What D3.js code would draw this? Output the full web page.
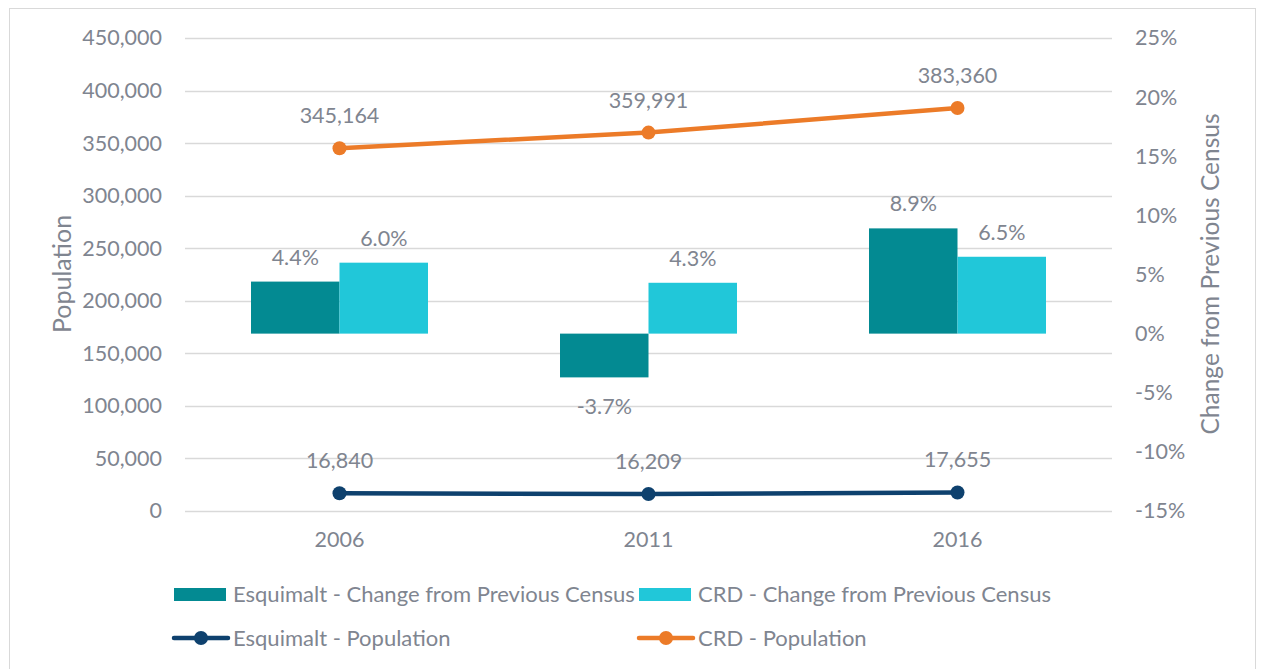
<!DOCTYPE html>
<html>
<head>
<meta charset="utf-8">
<script src="https://cdn.jsdelivr.net/npm/d3@7"></script>
<style>
  body { margin: 0; background: #fff; }
  svg text { font-family: Lato, "Open Sans", sans-serif; fill: #7f8590; }
</style>
</head>
<body>
<div id="chart"></div>
<script>
const years = ["2006", "2011", "2016"];
const esqChange = [4.4, -3.7, 8.9];
const crdChange = [6.0, 4.3, 6.5];
const esqPop = [16840, 16209, 17655];
const crdPop = [345164, 359991, 383360];
const popTicks = [0, 50000, 100000, 150000, 200000, 250000, 300000, 350000, 400000, 450000];
const pctTicks = [-15, -10, -5, 0, 5, 10, 15, 20, 25];

const W = 1261, H = 669;
const plot = { left: 185, right: 1112, top: 38, bottom: 511 };
const fs = 21.5;

const svg = d3.select("#chart").append("svg").attr("width", W).attr("height", H);

// outer frame
svg.append("rect").attr("x", 9.5).attr("y", 8.5).attr("width", 1246).attr("height", 670)
  .attr("fill", "none").attr("stroke", "#d9d9d9").attr("stroke-width", 1);

const x = d3.scaleBand().domain(years).range([plot.left, plot.right]);
const yPop = d3.scaleLinear().domain([0, 450000]).range([plot.bottom, plot.top]);
const yPct = d3.scaleLinear().domain([-15, 25]).range([plot.bottom, plot.top]);

// gridlines
svg.append("g").selectAll("line").data(popTicks).join("line")
  .attr("x1", plot.left).attr("x2", plot.right)
  .attr("y1", d => Math.round(yPop(d)) + 0.5).attr("y2", d => Math.round(yPop(d)) + 0.5)
  .attr("stroke", "#d9d9d9").attr("stroke-width", 1.3);

const fmt = d3.format(",");

// left axis
const leftAxis = svg.append("g").attr("transform", `translate(${plot.left},0)`)
  .call(d3.axisLeft(yPop).tickValues(popTicks).tickFormat(fmt).tickSize(0).tickPadding(23));
leftAxis.select(".domain").remove();
leftAxis.selectAll("text").attr("font-size", fs).attr("fill", "#7f8590");

// right axis
const rightAxis = svg.append("g").attr("transform", `translate(${plot.right},0)`)
  .call(d3.axisRight(yPct).tickValues(pctTicks).tickFormat(d => d + "%").tickSize(0).tickPadding(23));
rightAxis.select(".domain").remove();
rightAxis.selectAll("text").attr("font-size", fs).attr("fill", "#7f8590");

// x axis labels
const xAxis = svg.append("g").attr("transform", `translate(0,${plot.bottom})`)
  .call(d3.axisBottom(x).tickSize(0).tickPadding(21));
xAxis.select(".domain").remove();
xAxis.selectAll("text").attr("font-size", fs).attr("fill", "#7f8590");

// axis titles
svg.append("text").attr("transform", "translate(62,274) rotate(-90)")
  .attr("text-anchor", "middle").attr("dy", "0.35em").attr("font-size", 25).text("Population");
svg.append("text").attr("transform", "translate(1210,274) rotate(-90)")
  .attr("text-anchor", "middle").attr("dy", "0.35em").attr("font-size", 24.5).text("Change from Previous Census");

// bars
const barW = 88.5;
const series = [
  { vals: esqChange, color: "#038a92", off: -barW },
  { vals: crdChange, color: "#21c7d9", off: 0 }
];
series.forEach(s => {
  const g = svg.append("g");
  g.selectAll("rect").data(s.vals).join("rect")
    .attr("x", (d, i) => x(years[i]) + x.bandwidth() / 2 + s.off)
    .attr("width", barW)
    .attr("y", d => yPct(Math.max(0, d)))
    .attr("height", d => Math.abs(yPct(d) - yPct(0)))
    .attr("fill", s.color);
  g.selectAll("text").data(s.vals).join("text")
    .attr("x", (d, i) => x(years[i]) + x.bandwidth() / 2 + s.off + barW / 2)
    .attr("y", d => d >= 0 ? yPct(d) - 17 : yPct(d) + 37)
    .attr("text-anchor", "middle").attr("font-size", fs)
    .attr("fill", "#6f7580")
    .text(d => d.toFixed(1) + "%");
});

// lines
const lines = [
  { vals: crdPop, color: "#ec7b28" },
  { vals: esqPop, color: "#0e416e" }
];
const cx = i => x(years[i]) + x.bandwidth() / 2;
lines.forEach(s => {
  const g = svg.append("g");
  g.append("path").datum(s.vals)
    .attr("d", d3.line().x((d, i) => cx(i)).y(d => yPop(d)))
    .attr("fill", "none").attr("stroke", s.color).attr("stroke-width", 4.5)
    .attr("stroke-linecap", "round");
  g.selectAll("circle").data(s.vals).join("circle")
    .attr("cx", (d, i) => cx(i)).attr("cy", d => yPop(d)).attr("r", 7)
    .attr("fill", s.color);
  g.selectAll("text").data(s.vals).join("text")
    .attr("x", (d, i) => cx(i)).attr("y", d => yPop(d) - 25)
    .attr("text-anchor", "middle").attr("font-size", fs)
    .attr("fill", "#6f7580")
    .text(d => fmt(d));
});

// legend
const legend = svg.append("g");
const legItems = [
  { type: "rect", color: "#038a92", label: "Esquimalt - Change from Previous Census", x: 174, y: 594 },
  { type: "rect", color: "#21c7d9", label: "CRD - Change from Previous Census", x: 639, y: 594 },
  { type: "line", color: "#0e416e", label: "Esquimalt - Population", x: 174, y: 638 },
  { type: "line", color: "#ec7b28", label: "CRD - Population", x: 639, y: 638 }
];
legItems.forEach(it => {
  if (it.type === "rect") {
    legend.append("rect").attr("x", it.x).attr("y", it.y - 6).attr("width", 52).attr("height", 13)
      .attr("fill", it.color);
  } else {
    legend.append("line").attr("x1", it.x).attr("x2", it.x + 54).attr("y1", it.y).attr("y2", it.y)
      .attr("stroke", it.color).attr("stroke-width", 4.5).attr("stroke-linecap", "round");
    legend.append("circle").attr("cx", it.x + 27).attr("cy", it.y).attr("r", 7).attr("fill", it.color);
  }
  legend.append("text").attr("x", it.x + 59).attr("y", it.y).attr("dy", "0.35em")
    .attr("font-size", 22).text(it.label);
});
</script>
</body>
</html>
